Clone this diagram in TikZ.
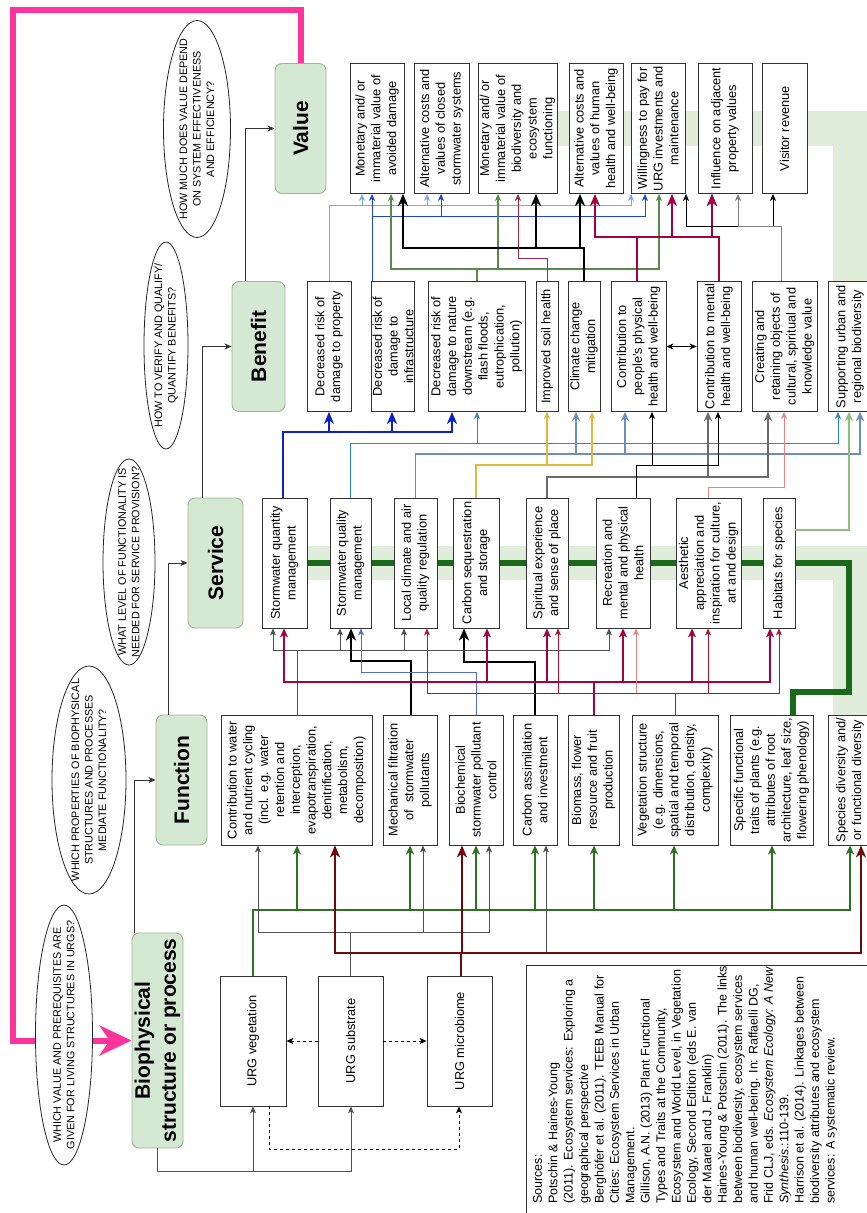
\documentclass[tikz,border=0pt]{standalone}
\usepackage{fontspec}
\setmainfont{Liberation Sans}
\usepackage{tikz}
\usetikzlibrary{arrows.meta,backgrounds,shapes.geometric}

\definecolor{cStageFill}{HTML}{D5E8D4}
\definecolor{cStageLine}{HTML}{9AB98C}
\definecolor{cPink}{HTML}{FF3399}
\definecolor{cBand}{HTML}{E0EDDB}
\definecolor{cDarkGreen}{HTML}{1B691B}
\definecolor{cVeg}{HTML}{2B7321}
\definecolor{cMicro}{HTML}{6E0A0A}
\definecolor{cCrimson}{HTML}{A50040}
\definecolor{cDarkRed}{HTML}{B0122F}
\definecolor{cLightRed}{HTML}{E8837F}
\definecolor{cDeepBlue}{HTML}{0B22C4}
\definecolor{cTeal}{HTML}{2688C0}
\definecolor{cSteel}{HTML}{6C8EBF}
\definecolor{cGold}{HTML}{E5B73B}
\definecolor{cSlate}{HTML}{6A6A6A}
\definecolor{cLightBlue}{HTML}{7FA7E3}
\definecolor{cMidBlue}{HTML}{1C46D8}
\definecolor{cGreyGreen}{HTML}{5A8A48}
\definecolor{cMaroon}{HTML}{9C2A4A}
\definecolor{cLeaf}{HTML}{8CC07A}
\definecolor{cFilter}{HTML}{4D6FD0}
\definecolor{cDim}{HTML}{505050}

\newcommand{\boxfont}{\fontsize{12.8}{15.8}\selectfont}
\newcommand{\stagefont}{\fontsize{21}{26}\selectfont\bfseries}
\newcommand{\qfont}{\fontsize{10.8}{13.5}\selectfont}
\newcommand{\srcfont}{\fontsize{12.5}{15.4}\selectfont}

\begin{document}
\begin{tikzpicture}[x=1pt,y=-1pt,
    stage/.style={draw=cStageLine,fill=cStageFill,rounded corners=7pt,rotate=90,align=center,font=\stagefont,minimum width=130pt,inner sep=2pt,line width=0.9pt},
    box/.style={draw=black!80,fill=white,rotate=90,align=center,font=\boxfont,minimum width=130pt,minimum height=#1,inner sep=1pt,line width=0.8pt},
    question/.style={ellipse,draw=black!85,fill=white,rotate=90,inner sep=0pt,line width=0.8pt},
    qtext/.style={rotate=90,align=center,font=\qfont,inner sep=0pt},
    lnthin/.style={line width=0.9pt,-{Stealth[length=7pt,width=6pt,inset=2pt]}},
    lnmid/.style={line width=1.8pt,-{Stealth[length=9pt,width=8pt,inset=2.5pt]}},
    lnbold/.style={line width=2.8pt,-{Stealth[length=12pt,width=10pt,inset=3.5pt]}}]

	\useasboundingbox (0,0) rectangle (867,1213);

	% stages
	\node[stage,minimum height=51pt] (value) at (300.5,128.5) {Value};
	\node[stage,minimum height=53pt] (benefit) at (258.5,346.5) {Benefit};
	\node[stage,minimum height=55pt] (service) at (215.5,563) {Service};
	\node[stage,minimum height=51pt] (function) at (181.5,780) {Function};
	\node[stage,minimum height=51pt,minimum width=215pt] (biophys) at (157.5,1040.5) {Biophysical\\structure or process};

	% questions
	\node[question,minimum width=217pt,minimum height=67pt] (qvalue) at (197,129) {};
	\node[qtext] (qvaluetext) at (qvalue) {HOW MUCH DOES VALUE DEPEND\\ON SYSTEM EFFECTIVENESS\\AND EFFICIENCY?};
	\node[question,minimum width=207pt,minimum height=44pt] (qbenefit) at (166,345.5) {};
	\node[qtext] (qbenefittext) at (qbenefit) {HOW TO VERIFY AND QUALIFY/\\QUANTIFY BENEFITS?};
	\node[question,minimum width=206pt,minimum height=52pt] (qservice) at (129,562) {};
	\node[qtext] (qservicetext) at (qservice) {WHAT LEVEL OF FUNCTIONALITY IS\\NEEDED FOR SERVICE PROVISION?};
	\node[question,minimum width=228pt,minimum height=74pt] (qfunction) at (89,780) {};
	\node[qtext] (qfunctiontext) at (qfunction) {WHICH PROPERTIES OF BIOPHYSICAL\\STRUCTURES AND PROCESSES\\MEDIATE FUNCTIONALITY?};
	\node[question,minimum width=260pt,minimum height=57pt] (qbiophys) at (64,1035) {};
	\node[qtext] (qbiophystext) at (qbiophys) {WHICH VALUE AND PREREQUISITES ARE\\GIVEN FOR LIVING STRUCTURES IN URGS?};

	% values
	\node[box=54pt] (vb1) at (377,128.5) {Monetary and/ or\\immaterial value of\\avoided damage};
	\node[box=55pt] (vb2) at (441.5,128.5) {Alternative costs and\\values of closed\\stormwater systems};
	\node[box=79pt] (vb3) at (517.5,128.5) {Monetary and/ or\\immaterial value of\\biodiversity and\\ecosystem\\functioning};
	\node[box=54pt] (vb4) at (596,128.5) {Alternative costs and\\values of human\\health and well-being};
	\node[box=54pt] (vb5) at (658,128.5) {Willingness to pay for\\URG investments and\\maintenance};
	\node[box=54pt] (vb6) at (725,128.5) {Influence on adjacent\\property values};
	\node[box=45pt] (vb7) at (784.5,128.5) {Visitor revenue};

	% benefits
	\node[box=44pt] (b1) at (329,346.5) {Decreased risk of\\damage to property};
	\node[box=42pt] (b2) at (393,346.5) {Decreased risk of\\damage to\\infrastructure};
	\node[box=97pt] (b3) at (476.5,346.5) {Decreased risk of\\damage to nature\\downstream (e.g.\\flash floods,\\eutrophication,\\pollution)};
	\node[box=22pt] (b4) at (547,346.5) {Improved soil health};
	\node[box=32pt] (b5) at (584,346.5) {Climate change\\mitigation};
	\node[box=55pt] (b6) at (638.5,346.5) {Contribution to\\people's physical\\health and well-being};
	\node[box=44pt] (b7) at (719,346.5) {Contribution to mental\\health and well-being};
	\node[box=65pt] (b8) at (784.5,346.5) {Creating and\\retaining objects of\\cultural, spiritual and\\knowledge value};
	\node[box=44pt] (b9) at (850,346.5) {Supporting urban and\\regional biodiversity};

	% services
	\node[box=45pt] (s1) at (284.5,563) {Stormwater quantity\\management};
	\node[box=41pt] (s2) at (350.5,563) {Stormwater quality\\management};
	\node[box=43pt] (s3) at (415.5,563) {Local climate and air\\quality regulation};
	\node[box=46pt] (s4) at (476,563) {Carbon sequestration\\and storage};
	\node[box=42pt] (s5) at (547,563) {Spiritual experience\\and sense of place};
	\node[box=54pt] (s6) at (623,563) {Recreation and\\mental and physical\\health};
	\node[box=65pt] (s7) at (708.5,563) {Aesthetic\\appreciation and\\inspiration for culture,\\art and design};
	\node[box=32pt] (s8) at (779,563) {Habitats for species};

	% functions
	\node[box=151pt] (f1) at (296.5,780) {Contribution to water\\and nutrient cycling\\(incl. e.g. water\\retention and\\interception,\\evapotranspiration,\\denitrification,\\metabolism,\\decomposition)};
	\node[box=54pt] (f2) at (410,780) {Mechanical filtration\\of\ \ stormwater\\pollutants};
	\node[box=54pt] (f3) at (476,780) {Biochemical\\stormwater pollutant\\control};
	\node[box=44pt] (f4) at (535,780) {Carbon assimilation\\and investment};
	\node[box=51pt] (f5) at (593.5,780) {Biomass, flower\\resource and fruit\\production};
	\node[box=86pt] (f6) at (675,780) {Vegetation structure\\(e.g. dimensions,\\spatial and temporal\\distribution, density,\\complexity)};
	\node[box=83pt] (f7) at (771.5,780) {Specific functional\\traits of plants (e.g.\\attributes of root\\architecture, leaf size,\\flowering phenology)};
	\node[box=44pt] (f8) at (850,780) {Species diversity and/\\or functional diversity};

	% structures
	\node[box=66pt] (u1) at (253,1041) {URG vegetation};
	\node[box=65pt] (u2) at (350.5,1041) {URG substrate};
	\node[box=65pt] (u3) at (459.5,1041) {URG microbiome};

	% sources
	\node[rotate=90,anchor=north west,align=left,font=\srcfont,inner sep=0pt] (sources) at (533,1204) {Sources:\\
	Potschin \& Haines-Young\\
	(2011). Ecosystem services: Exploring a\\
	geographical perspective\\
	Berghöfer et al. (2011). TEEB Manual for\\
	Cities: Ecosystem Services in Urban\\
	Management.\\
	Gillison, A.N. (2013) Plant Functional\\
	Types and Traits at the Community,\\
	Ecosystem and World Level, in Vegetation\\
	Ecology, Second Edition (eds E. van\\
	der Maarel and J. Franklin)\\
	Haines-Young \& Potschin (2011). The links\\
	between biodiversity, ecosystem services\\
	and human well-being. In: Raffaelli DG,\\
	Frid CLJ, eds. \textit{Ecosystem Ecology: A New}\\
	\textit{Synthesis}.:110-139.\\
	Harrison et al. (2014). Linkages between\\
	biodiversity attributes and ecosystem\\
	services: A systematic review.};
	\draw[black!80,line width=0.8pt] (526,965) rectangle (880,1225);

	% stage flow
	\draw[lnthin,black!80] (134,0 |- biophys.east) |- (function.north);
	\draw[lnthin,black!80] (168,0 |- function.east) |- (service.north);
	\draw[lnthin,black!80] (202,0 |- service.east) |- (benefit.north);
	\draw[lnthin,black!80] (245,0 |- benefit.east) |- (value.north);

	% structures among themselves
	\draw[lnthin,cDim] (biophys.west) -- (157.5,1171) -| (253,0 |- u1.west);
	\draw[lnthin,cDim] (biophys.west) -- (157.5,1171) -| (351,0 |- u2.west);
	\draw[lnthin,dashed] (u2.north) -- (u1.south);
	\draw[lnthin,dashed] (u2.south) -- (u3.north);
	\draw[lnthin,dashed] (269,0 |- u1.west) -- (269,1149) -| (459,0 |- u3.west);

	% structures -> functions
	\draw[lnmid,cVeg] (253,0 |- u1.east) -- (253,910) -| (297,0 |- f1.west);
	\draw[lnmid,cVeg] (253,0 |- u1.east) -- (253,910) -| (410,0 |- f2.west);
	\draw[lnmid,cVeg] (253,0 |- u1.east) -- (253,910) -| (476,0 |- f3.west);
	\draw[lnmid,cVeg] (253,0 |- u1.east) -- (253,910) -| (535,0 |- f4.west);
	\draw[lnmid,cVeg] (253,0 |- u1.east) -- (253,910) -| (594,0 |- f5.west);
	\draw[lnmid,cVeg] (253,0 |- u1.east) -- (253,910) -| (674,0 |- f6.west);
	\draw[lnmid,cVeg] (253,0 |- u1.east) -- (253,910) -| (772,0 |- f7.west);
	\draw[lnmid,cVeg] (253,0 |- u1.east) -- (253,910) -| (850,0 |- f8.west);
	\draw[lnthin,cDim] (350.5,0 |- u2.east) -- (350.5,932) -| (258,0 |- f1.west);
	\draw[lnthin,cDim] (350.5,0 |- u2.east) -- (350.5,932) -| (423,0 |- f2.west);
	\draw[lnthin,cDim] (350.5,0 |- u2.east) -- (350.5,932) -| (489,0 |- f3.west);
	\draw[lnthin,cDim] (461,0 |- u3.east) -- (461,953) -| (546,0 |- f4.west);
	\draw[lnbold,cMicro] (461,0 |- u3.east) -- (461,953) -| (335,0 |- f1.west);
	\draw[lnbold,cMicro] (461,0 |- u3.east) -- (461,953) -| (462,0 |- f3.west);
	\draw[lnbold,cMicro] (461,0 |- u3.east) -- (461,953) -| (861,0 |- f8.west);

	% functions -> services
	\draw[lnthin,cDim] (297,0 |- f1.east) -- (297,650) -| (273,0 |- s1.west);
	\draw[lnthin,cDim] (297,0 |- f1.east) -- (297,650) -| (340,0 |- s2.west);
	\draw[lnthin,cDim] (297,0 |- f1.east) -- (297,650) -| (404,0 |- s3.west);
	\draw[lnthin,cDim] (297,0 |- f1.east) -- (297,650) -| (609,0 |- s6.west);
	\draw[lnbold,black] (411,0 |- f2.east) -- (411,661) -| (351,0 |- s2.west);
	\draw[lnthin,cFilter] (476,0 |- f3.east) -- (476,672) -| (361,0 |- s2.west);
	\draw[lnbold,black] (535,0 |- f4.east) -- (535,662) -| (464,0 |- s4.west);
	\draw[lnmid,cCrimson] (594,0 |- f5.east) -- (594,682) -| (284,0 |- s1.west);
	\draw[lnmid,cCrimson] (594,0 |- f5.east) -- (594,682) -| (487,0 |- s4.west);
	\draw[lnmid,cCrimson] (594,0 |- f5.east) -- (594,682) -| (547,0 |- s5.west);
	\draw[lnmid,cCrimson] (594,0 |- f5.east) -- (594,682) -| (623,0 |- s6.west);
	\draw[lnmid,cCrimson] (594,0 |- f5.east) -- (594,682) -| (692,0 |- s7.west);
	\draw[lnmid,cCrimson] (594,0 |- f5.east) -- (594,682) -| (770,0 |- s8.west);
	\draw[lnthin,cLightRed] (675,0 |- f6.east) -- (675,693) -| (636,0 |- s6.west);
	\draw[lnthin,cDarkRed] (675,0 |- f6.east) -- (675,693) -| (427,0 |- s3.west);
	\draw[lnthin,cDarkRed] (675,0 |- f6.east) -- (675,693) -| (558,0 |- s5.west);
	\draw[lnthin,cDarkRed] (675,0 |- f6.east) -- (675,693) -| (708,0 |- s7.west);
	\draw[lnthin,cDarkRed] (675,0 |- f6.east) -- (675,693) -| (779,0 |- s8.west);

	% services -> benefits
	\draw[lnbold,cDeepBlue] (283,0 |- s1.east) -- (283,432) -| (329,0 |- b1.west);
	\draw[lnbold,cDeepBlue] (283,0 |- s1.east) -- (283,432) -| (392,0 |- b2.west);
	\draw[lnbold,cDeepBlue] (283,0 |- s1.east) -- (283,432) -| (452,0 |- b3.west);
	\draw[lnthin,cTeal] (350.5,0 |- s2.east) -- (350.5,443) -| (477,0 |- b3.west);
	\draw[lnthin,cTeal] (350.5,0 |- s2.east) -- (350.5,443) -| (838,0 |- b9.west);
	\draw[lnmid,cSteel] (415.5,0 |- s3.east) -- (415.5,454) -| (576,0 |- b5.west);
	\draw[lnmid,cSteel] (415.5,0 |- s3.east) -- (415.5,454) -| (625,0 |- b6.west);
	\draw[lnmid,cSteel] (415.5,0 |- s3.east) -- (415.5,454) -| (860,0 |- b9.west);
	\draw[lnthin,cGold,line width=1.2pt] (476,0 |- s4.east) -- (476,465) -| (547,0 |- b4.west);
	\draw[lnthin,cGold,line width=1.2pt] (476,0 |- s4.east) -- (476,465) -| (592,0 |- b5.west);
	\draw[lnmid,cSlate] (547,0 |- s5.east) -- (547,477) -| (708,0 |- b7.west);
	\draw[lnmid,cSlate] (547,0 |- s5.east) -- (547,477) -| (768,0 |- b8.west);
	\draw[lnthin,black] (636,0 |- s6.east) -- (636,465) -| (652,0 |- b6.west);
	\draw[lnthin,black] (636,0 |- s6.east) -- (636,465) -| (718,0 |- b7.west);
	\draw[lnthin,cLightRed] (708,0 |- s7.east) -- (708,487) -| (784,0 |- b8.west);
	\draw[lnmid,cLeaf,line width=1.5pt] (s8.south |- 0,530) -| (849,0 |- b9.west);
	\draw[lnthin,{Stealth[length=7pt,width=6pt,inset=2pt]}-{Stealth[length=7pt,width=6pt,inset=2pt]}] (b6.south) -- (b7.north);

	% benefits -> values
	\draw[lnthin,cLightBlue] (329,0 |- b1.east) -- (329,205) -| (362,0 |- vb1.west);
	\draw[lnthin,cLightBlue] (329,0 |- b1.east) -- (329,205) -| (427,0 |- vb2.west);
	\draw[lnthin,cLightBlue] (329,0 |- b1.east) -- (329,205) -| (631,0 |- vb5.west);
	\draw[lnthin,cMidBlue] (372,0 |- b2.east) -- (372,0 |- vb1.west);
	\draw[lnthin,cMidBlue] (372,0 |- b2.east) -- (372,216) -| (441,0 |- vb2.west);
	\draw[lnthin,cMidBlue] (372,0 |- b2.east) -- (372,216) -| (645,0 |- vb5.west);
	\draw[lnthin,cGreyGreen,line width=1.2pt] (477,0 |- b3.east) -- (477,269) -| (391,0 |- vb1.west);
	\draw[lnthin,cGreyGreen,line width=1.2pt] (477,0 |- b3.east) -- (477,269) -| (498,0 |- vb3.west);
	\draw[lnthin,cGreyGreen,line width=1.2pt] (477,0 |- b3.east) -- (477,269) -| (659,0 |- vb5.west);
	\draw[lnthin,cMaroon] (547,0 |- b4.east) -- (547,258) -| (518,0 |- vb3.west);
	\draw[lnbold,black] (584,0 |- b5.east) -- (584,248) -| (403,0 |- vb1.west);
	\draw[lnbold,black] (584,0 |- b5.east) -- (584,248) -| (536,0 |- vb3.west);
	\draw[lnbold,black] (584,0 |- b5.east) -- (584,248) -| (580,0 |- vb4.west);
	\draw[lnbold,cCrimson] (637,0 |- b6.east) -- (637,237) -| (595,0 |- vb4.west);
	\draw[lnbold,cCrimson] (637,0 |- b6.east) -- (637,237) -| (672,0 |- vb5.west);
	\draw[lnbold,cCrimson] (637,0 |- b6.east) -- (637,237) -| (712,0 |- vb6.west);
	\draw[lnbold,cCrimson] (719,0 |- b7.east) -- (719,237) -| (712,0 |- vb6.west);
	\draw[lnthin,black] (781,0 |- b8.east) -- (781,226) -| (686,0 |- vb5.west);
	\draw[lnthin,black] (781,0 |- b8.east) -- (781,226) -| (773,0 |- vb7.west);
	\draw[lnthin,black!50] (781,0 |- b8.east) -- (781,226) -| (738,0 |- vb6.west);

	% bands and feedback behind the boxes
	\begin{scope}[on background layer]
		\fill[white] (0,0) rectangle (867,1213);
		\draw[cBand,line width=34pt] (f8.east) |- (s1.center);
		\draw[cBand,line width=35pt] (b9.east) |- (vb3.center);
		\draw[cDarkGreen,line width=6pt] (793,0 |- f7.east) -- (793,692) -| (849,563) -- (s1.center);
		\draw[cPink,line width=6pt,-{Stealth[length=32pt,width=30pt,inset=10pt]}] (value.east) -- (300.5,10) -| (13,1040.5) -- (biophys.north);
	\end{scope}
\end{tikzpicture}
\end{document}
